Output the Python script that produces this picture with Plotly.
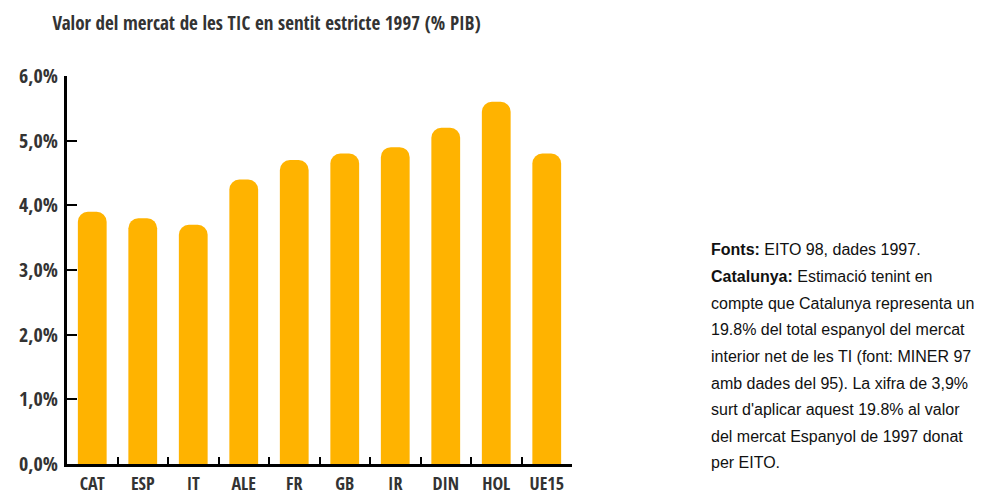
import plotly.graph_objects as go

categories = ["CAT", "ESP", "IT", "ALE", "FR", "GB", "IR", "DIN", "HOL", "UE15"]
values = [3.9, 3.8, 3.7, 4.4, 4.7, 4.8, 4.9, 5.2, 5.6, 4.8]
y_tick_vals = [0, 1, 2, 3, 4, 5, 6]
y_tick_text = ["0,0%", "1,0%", "2,0%", "3,0%", "4,0%", "5,0%", "6,0%"]
title_text = "Valor del mercat de les TIC en sentit estricte 1997 (% PIB)"
note_lines = [
    "<b>Fonts:</b> EITO 98, dades 1997.",
    "<b>Catalunya:</b> Estimació tenint en",
    "compte que Catalunya representa un",
    "19.8% del total espanyol del mercat",
    "interior net de les TI (font: MINER 97",
    "amb dades del 95). La xifra de 3,9%",
    "surt d'aplicar aquest 19.8% al valor",
    "del mercat Espanyol de 1997 donat",
    "per EITO.",
]

W, H = 989, 495
L, R, T, B = 67, 417, 76, 31
pw, ph = W - L - R, H - T - B

COND = "Open Sans Condensed, Roboto Condensed, sans-serif"
y_label_font = dict(family=COND, size=20, color="#333333", weight="bold")
x_label_font = dict(family=COND, size=18, color="#333333", weight="bold")

fig = go.Figure(go.Bar(
    x=categories, y=values,
    marker=dict(color="#FFB300", line=dict(width=0), cornerradius=10),
    width=0.57,
))

fig.update_layout(
    width=W, height=H,
    margin=dict(l=L, r=R, t=T, b=B, pad=0, autoexpand=False),
    paper_bgcolor="white", plot_bgcolor="white",
    showlegend=False,
    title=dict(text=title_text, x=266.5 / W, xanchor="center",
               y=1 - 23 / H, yanchor="middle",
               font=dict(family=COND, size=19, color="#333333", weight="bold")),
    xaxis=dict(
        showline=True, linecolor="black", linewidth=3,
        ticks="inside", tickson="boundaries", ticklen=7, tickwidth=2, tickcolor="black",
        tickfont=x_label_font, showgrid=False, zeroline=False,
        tickangle=0, automargin=False, ticklabelstandoff=1,
        range=[-0.5, len(categories) - 0.5],
    ),
    yaxis=dict(
        range=[0, 6], tickvals=y_tick_vals, ticktext=y_tick_text,
        showline=True, linecolor="black", linewidth=3,
        ticks="inside", ticklen=10, tickwidth=2, tickcolor="black",
        tickfont=y_label_font, showgrid=False, zeroline=False,
        automargin=False, ticklabelstandoff=2,
    ),
)

y0 = 250
for i, line in enumerate(note_lines):
    py = y0 + 26.6 * i
    fig.add_annotation(
        xref="paper", yref="paper",
        x=(710 - L) / pw, y=(H - B - py) / ph,
        xanchor="left", yanchor="middle", showarrow=False,
        text=line, align="left", borderpad=0,
        font=dict(family="Liberation Sans, Arial, sans-serif", size=16, color="#111111"),
    )

fig.write_html("out.html", config={"displayModeBar": False},
               post_script="document.body.style.margin='0';")
